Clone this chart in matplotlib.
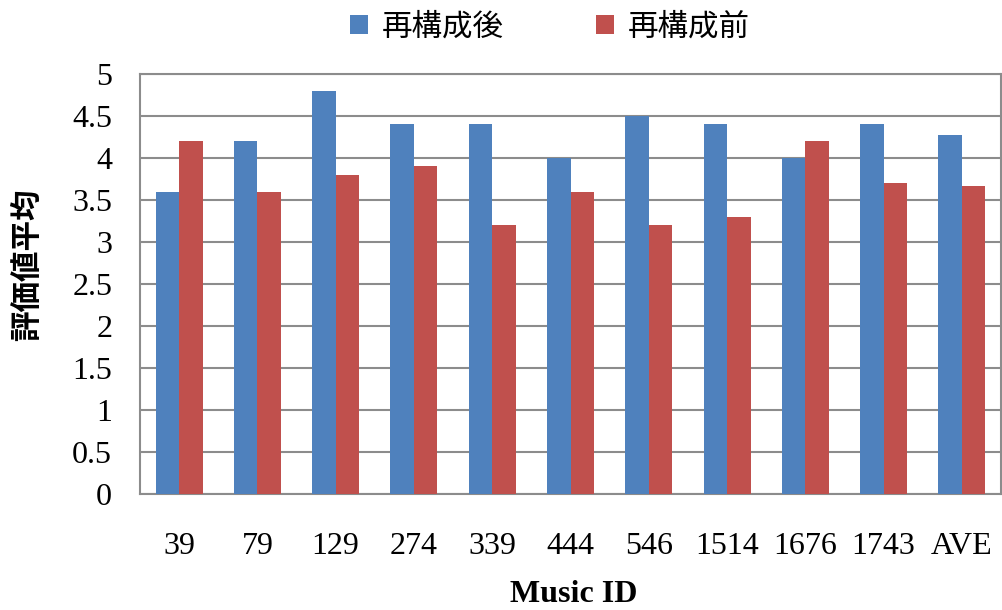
import matplotlib.pyplot as plt
import numpy as np

music_ids = ['39', '79', '129', '274', '339', '444', '546', '1514', '1676', '1743', 'AVE']
after = [3.6, 4.2, 4.8, 4.4, 4.4, 4.0, 4.5, 4.4, 4.0, 4.4, 4.27]
before = [4.2, 3.6, 3.8, 3.9, 3.2, 3.6, 3.2, 3.3, 4.2, 3.7, 3.67]
series_names = ['再構成後', '再構成前']

blue = '#4F81BD'
red = '#C0504D'
grid_c = '#8C8C8C'
cjk = ['Noto Sans CJK JP', 'DejaVu Sans']
serif = 'Liberation Serif'

fig = plt.figure(figsize=(10.02, 6.10), dpi=100)
ax = fig.add_axes([140/1002, 1-494/610, 861/1002, 420/610])

x = np.arange(len(music_ids))
w = 0.3
ax.bar(x - w/2, after, w, color=blue, label=series_names[0], zorder=3)
ax.bar(x + w/2, before, w, color=red, label=series_names[1], zorder=3)

ax.set_xlim(-0.5, len(music_ids) - 0.5)
ax.set_ylim(0, 5)
ax.set_yticks(np.arange(0, 5.01, 0.5))
ax.set_yticklabels(['0', '0.5', '1', '1.5', '2', '2.5', '3', '3.5', '4', '4.5', '5'])
ax.set_xticks(x)
ax.set_xticklabels(music_ids)
ax.tick_params(axis='both', length=0, labelsize=23)
ax.tick_params(axis='x', pad=27)
ax.tick_params(axis='y', pad=20)
for lab in ax.get_xticklabels() + ax.get_yticklabels():
    lab.set_fontfamily(serif)

ax.yaxis.grid(True, color=grid_c, linewidth=1.5, zorder=0)
for s in ax.spines.values():
    s.set_color(grid_c)
    s.set_linewidth(1.5)

# axis titles placed directly in figure pixels
fig.text(574/1002, 1-594/610, 'Music ID', fontfamily=serif, fontweight='bold',
         fontsize=23, ha='center', va='center')
fig.text(27/1002, 1-265/610, '評価値平均', fontfamily=cjk, fontweight='bold',
         fontsize=22, rotation=90, ha='center', va='center')

fig.legend(loc='center', bbox_to_anchor=(550/1002, 1-27/610), ncol=2, frameon=False,
           prop={'family': cjk, 'size': 22}, handlelength=0.6, handleheight=0.6,
           columnspacing=3.0, handletextpad=0.45)

fig.savefig('out.png', dpi=100)
